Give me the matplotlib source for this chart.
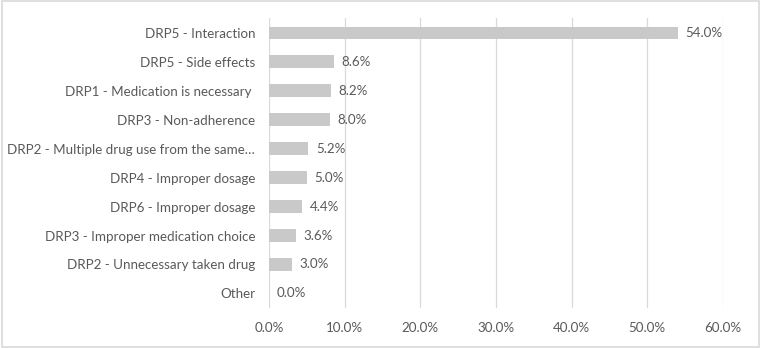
import matplotlib
matplotlib.use("Agg")
import matplotlib.pyplot as plt
from matplotlib.patches import Rectangle
from matplotlib.ticker import FuncFormatter

categories = [
    "DRP5 - Interaction",
    "DRP5 - Side effects",
    "DRP1 - Medication is necessary ",
    "DRP3 - Non-adherence",
    "DRP2 - Multiple drug use from the same…",
    "DRP4 - Improper dosage",
    "DRP6 - Improper dosage",
    "DRP3 - Improper medication choice",
    "DRP2 - Unnecessary taken drug",
    "Other",
]
values = [54.0, 8.6, 8.2, 8.0, 5.2, 5.0, 4.4, 3.6, 3.0, 0.0]
x_ticks = [0, 10, 20, 30, 40, 50, 60]

plt.rcParams['font.family'] = ['Lato', 'DejaVu Sans']
txt = '#595959'
fs = 9.6

fig = plt.figure(figsize=(7.61, 3.48), dpi=100)
ax = fig.add_axes([0.3535, 0.115, 0.5965, 0.833])

ypos = list(range(len(categories)))
ax.barh(ypos, values, height=0.42, color='#C9C9C9', zorder=3)
for y, v in zip(ypos, values):
    ax.text(v + 1.0, y, f"{v:.1f}%", va='center', ha='left', fontsize=fs, color=txt)

ax.set_yticks(ypos)
ax.set_yticklabels(categories, fontsize=fs, color=txt)
ax.set_ylim(len(categories) - 0.5, -0.5)
ax.set_xlim(0, 60)
ax.set_xticks(x_ticks)
ax.xaxis.set_major_formatter(FuncFormatter(lambda v, p: f"{v:.1f}%"))
ax.tick_params(axis='x', labelsize=fs, colors=txt, length=0, pad=10)
ax.tick_params(axis='y', length=0, pad=10)
ax.grid(axis='x', color='#D9D9D9', linewidth=0.9, zorder=0)
for s in ax.spines.values():
    s.set_visible(False)

fig.patches.append(Rectangle((0.002, 0.003), 0.996, 0.994, transform=fig.transFigure,
                             fill=False, edgecolor='#D9D9D9', linewidth=1.2))

fig.savefig("out.png", dpi=100)
